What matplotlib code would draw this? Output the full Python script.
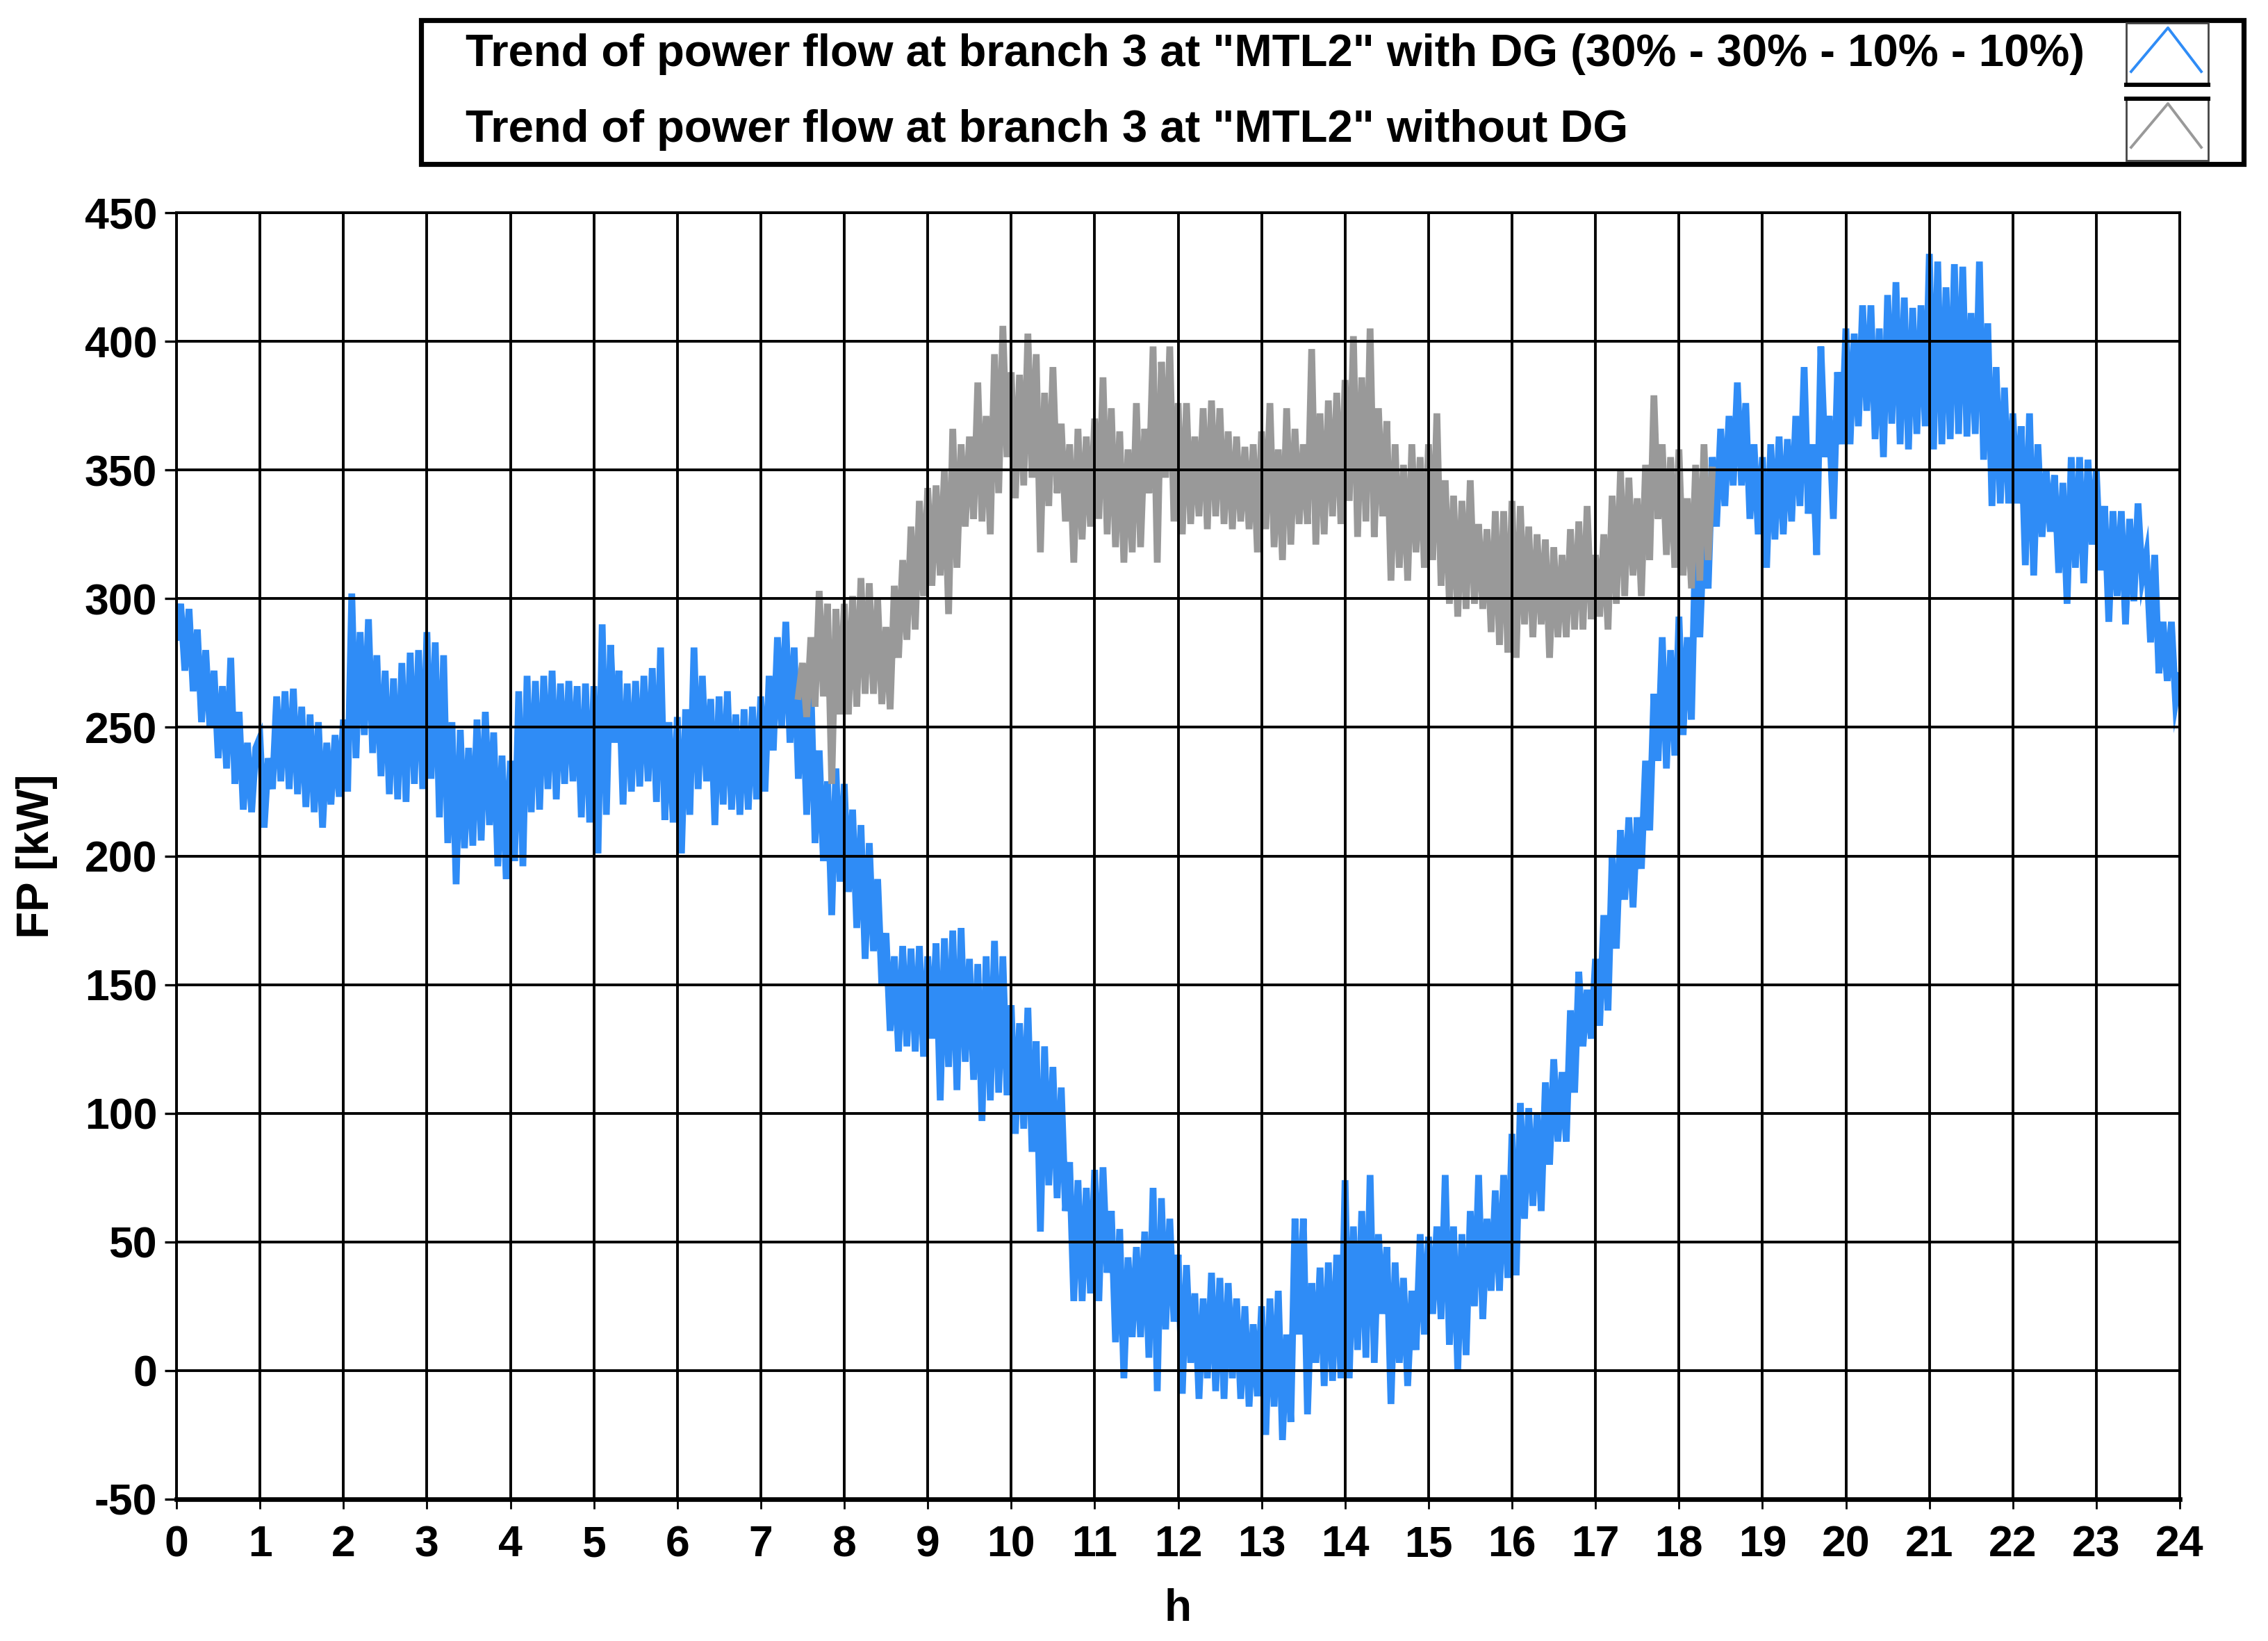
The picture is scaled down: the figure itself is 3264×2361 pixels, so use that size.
import numpy as np
import matplotlib
matplotlib.use("Agg")
import matplotlib.pyplot as plt
from matplotlib.patches import Rectangle
from matplotlib.lines import Line2D

# sample step of both traces, in hours
STEP_H = 0.05

# power flow with DG, 0.00 h .. 24.00 h, one row per hour (20 samples)
blue_start = 0.0
blue_fp = [
    285, 298, 272, 296, 264, 288, 252, 280, 250, 272, 238, 266, 234, 277, 228, 256, 218, 244, 217, 242,
    246, 211, 238, 226, 262, 229, 264, 226, 265, 224, 258, 219, 255, 217, 252, 211, 244, 220, 247, 223,
    253, 225, 302, 238, 287, 247, 292, 240, 278, 231, 272, 224, 269, 222, 275, 221, 279, 228, 280, 226,
    287, 230, 283, 215, 278, 205, 252, 189, 249, 203, 242, 204, 253, 206, 256, 212, 248, 196, 239, 191,
    237, 198, 264, 196, 270, 217, 268, 218, 270, 226, 272, 222, 267, 228, 268, 229, 266, 215, 267, 213,
    266, 201, 290, 216, 282, 244, 272, 220, 267, 225, 268, 227, 270, 229, 273, 221, 281, 214, 252, 213,
    254, 201, 257, 216, 281, 226, 270, 229, 261, 212, 262, 220, 264, 218, 255, 216, 257, 218, 258, 222,
    262, 225, 270, 241, 285, 250, 291, 244, 281, 230, 267, 216, 267, 205, 241, 198, 229, 177, 234, 190,
    228, 186, 218, 172, 212, 160, 205, 163, 191, 150, 170, 132, 161, 124, 165, 126, 164, 124, 165, 122,
    161, 129, 166, 105, 168, 118, 171, 109, 172, 120, 160, 113, 158, 97, 161, 105, 167, 108, 161, 107,
    142, 92, 135, 94, 141, 85, 128, 54, 126, 72, 118, 67, 110, 62, 81, 27, 74, 27, 71, 30,
    78, 27, 79, 38, 62, 11, 55, -3, 44, 13, 48, 13, 54, 5, 71, -8, 67, 16, 59, 19,
    45, -9, 41, 3, 30, -11, 28, -3, 38, -8, 36, -11, 34, -3, 28, -11, 25, -14, 18, -10,
    25, -25, 28, -14, 31, -27, 14, -20, 59, 14, 59, -17, 34, 3, 40, -6, 42, -4, 45, -3,
    74, -3, 56, 8, 62, 5, 76, 3, 53, 22, 48, -13, 42, 3, 36, -6, 31, 8, 53, 14,
    52, 22, 56, 20, 76, 10, 56, 0, 53, 6, 62, 25, 76, 20, 59, 31, 70, 31, 76, 36,
    92, 37, 104, 59, 102, 64, 100, 62, 112, 80, 121, 89, 116, 89, 140, 108, 155, 126, 148, 129,
    160, 134, 177, 140, 200, 164, 210, 183, 215, 180, 215, 195, 237, 210, 263, 237, 285, 234, 280, 239,
    293, 247, 285, 253, 325, 285, 328, 304, 355, 328, 366, 336, 371, 344, 384, 344, 376, 331, 360, 325,
    355, 312, 360, 323, 363, 325, 362, 330, 371, 336, 390, 333, 360, 317, 398, 355, 371, 331, 388, 360,
    405, 360, 403, 367, 414, 373, 414, 362, 405, 355, 418, 368, 423, 360, 417, 358, 413, 364, 414, 367,
    434, 358, 431, 360, 421, 362, 430, 364, 429, 363, 411, 364, 431, 354, 407, 336, 390, 337, 382, 337,
    372, 337, 367, 313, 372, 309, 360, 324, 350, 326, 348, 310, 345, 298, 355, 312, 355, 306, 354, 321,
    350, 311, 336, 291, 334, 301, 334, 290, 331, 299, 337, 308, 317, 283, 317, 271, 291, 268, 291, 260,
    270,
]

# power flow without DG, 7.45 h .. 18.40 h
gray_start = 7.45
gray_fp = [
    262, 275, 254, 285, 258, 303, 262, 298, 228, 296, 255,
    298, 255, 301, 258, 308, 263, 306, 263, 300, 259, 289, 257, 305, 277, 315, 284, 328, 288, 338, 301,
    343, 305, 344, 309, 350, 294, 366, 312, 360, 328, 363, 331, 384, 330, 371, 325, 395, 341, 406, 355,
    388, 339, 387, 344, 403, 347, 395, 318, 380, 336, 390, 341, 368, 330, 360, 314, 366, 323, 363, 328,
    370, 331, 386, 325, 374, 320, 365, 314, 358, 318, 376, 320, 366, 341, 398, 314, 392, 347, 398, 330,
    376, 325, 376, 329, 363, 332, 374, 327, 377, 332, 374, 329, 365, 327, 363, 330, 359, 327, 360, 318,
    365, 327, 376, 320, 358, 315, 374, 321, 366, 329, 360, 329, 397, 321, 372, 325, 377, 332, 380, 329,
    385, 338, 402, 324, 386, 330, 405, 324, 374, 332, 369, 307, 360, 312, 352, 307, 360, 318, 355, 312,
    360, 315, 372, 305, 346, 298, 340, 293, 338, 296, 346, 298, 329, 296, 327, 287, 334, 282, 334, 279,
    338, 277, 336, 290, 328, 285, 325, 290, 323, 277, 320, 285, 317, 285, 327, 288, 330, 288, 336, 292,
    317, 293, 325, 288, 340, 298, 350, 301, 347, 309, 339, 301, 352, 315, 379, 331, 360, 317, 355, 312,
    358, 309, 339, 304, 352, 307, 360, 315, 350,
]

x_ticks = list(range(0, 25))
y_ticks = list(range(-50, 451, 50))

legend_labels = [
    'Trend of power flow at branch 3 at "MTL2" with DG (30% - 30% - 10% - 10%)',
    'Trend of power flow at branch 3 at "MTL2" without DG',
]

BLUE = "#2f8cf6"
GRAY = "#999999"

W, H = 3264, 2361
plt.rcParams["font.family"] = ["Liberation Sans", "DejaVu Sans"]
plt.rcParams["font.weight"] = "bold"
plt.rcParams["axes.unicode_minus"] = False


def fx(px):
    return px / W


def fy(py):
    return 1 - py / H


def main():
    t_blue = blue_start + STEP_H * np.arange(len(blue_fp))
    t_gray = gray_start + STEP_H * np.arange(len(gray_fp))

    fig = plt.figure(figsize=(W / 200, H / 200), dpi=200)
    ax = fig.add_axes([fx(254), fy(2157), (3137 - 254) / W, (2157 - 306) / H])

    # thick strokes so the dense samples read as a filled noisy band
    ax.plot(t_blue, blue_fp, color=BLUE, lw=3.5, zorder=2, solid_joinstyle="miter")
    ax.plot(t_gray, gray_fp, color=GRAY, lw=3.5, zorder=2.1, solid_joinstyle="miter")

    ax.set_xlim(0, 24)
    ax.set_ylim(-50, 450)
    ax.set_xticks(x_ticks)
    ax.set_yticks(y_ticks)
    ax.set_axisbelow(False)
    ax.grid(True, color="black", lw=1.4)

    for side in ["left", "top", "right"]:
        ax.spines[side].set_linewidth(1.4)
    ax.spines["bottom"].set_linewidth(2.4)

    ax.tick_params(axis="x", direction="out", length=5, width=1, pad=8, labelsize=22.5)
    ax.tick_params(axis="y", direction="out", length=6, width=1.2, pad=4, labelsize=22.5)
    for lab in ax.get_xticklabels() + ax.get_yticklabels():
        lab.set_fontweight("bold")

    ax.set_xlabel("h", fontsize=23, fontweight="bold")
    ax.set_ylabel("FP [kW]", fontsize=23, fontweight="bold")
    ax.xaxis.set_label_coords(0.5, -0.069)
    ax.yaxis.set_label_coords((83 - 254) / (3137 - 254), 0.5)

    # legend box, drawn by hand in figure pixels
    fig.patches.append(Rectangle((fx(606), fy(236)), (3229 - 606) / W, (236 - 29) / H,
                                 transform=fig.transFigure, facecolor="white",
                                 edgecolor="black", lw=2.6))
    for i, (label, col) in enumerate(zip(legend_labels, [BLUE, GRAY])):
        y0 = 33 + i * 109
        y1 = y0 + 89
        fig.patches.append(Rectangle((fx(3060), fy(y1)), (3178 - 3060) / W, (y1 - y0) / H,
                                     transform=fig.transFigure, facecolor="white",
                                     edgecolor="#444444", lw=1.0))
        edge = y1 if i == 0 else y0
        fig.lines.append(Line2D([fx(3060), fx(3178)], [fy(edge), fy(edge)],
                                transform=fig.transFigure, color="black", lw=2.2))
        fig.lines.append(Line2D([fx(3067), fx(3120), fx(3168)],
                                [fy(y0 + 70), fy(y0 + 7), fy(y0 + 70)],
                                transform=fig.transFigure, color=col, lw=1.4))
        fig.text(fx(670), fy(y0 + 45), label, fontsize=23.5, fontweight="bold",
                 ha="left", va="center")

    fig.savefig("out.png", dpi=200, facecolor="white")
    return 0


if __name__ == "__main__":
    main()
